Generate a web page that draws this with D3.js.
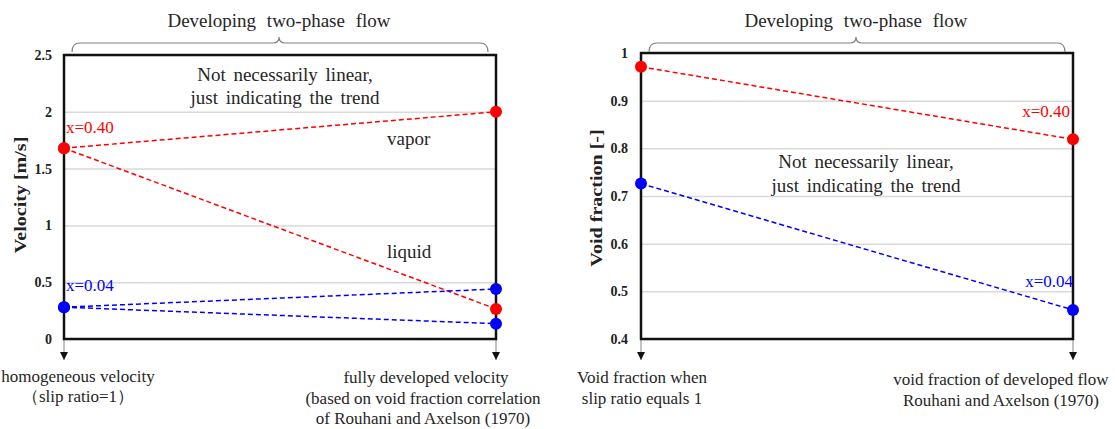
<!DOCTYPE html>
<html lang="en">
<head>
<meta charset="UTF-8">
<title>Developing two-phase flow</title>
<script src="https://cdn.jsdelivr.net/npm/d3@7"></script>
<style>
    body { margin: 0; background: #fff; }
    svg text { font-family: "Times New Roman", "Liberation Serif", serif; }
    .tick-lab { font-size: 14px; font-weight: bold; fill: #222; }
    .ytitle { font-size: 17px; font-weight: bold; fill: #222; }
    .note { font-size: 19px; fill: #262626; word-spacing: 3px; }
    .xlab { font-size: 17px; word-spacing: 0; }
    .title { font-size: 19px; fill: #262626; word-spacing: 6px; }
    .bottom { font-size: 17px; fill: #262626; }
</style>
</head>
<body>
<div id="chart"></div>
<script>
// positions along x: start (slip ratio = 1) and fully developed
var stages = ["start", "developed"];

// left panel: velocity [m/s]
var velTicks = [0, 0.5, 1, 1.5, 2, 2.5];
var velVapor040 = [1.68, 2.0];
var velLiquid040 = [1.68, 0.265];
var velVapor004 = [0.28, 0.44];
var velLiquid004 = [0.28, 0.135];

// right panel: void fraction [-]
var voidTicks = [0.4, 0.5, 0.6, 0.7, 0.8, 0.9, 1];
var void040 = [0.971, 0.819];
var void004 = [0.726, 0.461];

var RED = "#ff0000", BLUE = "#0000ff";

var svg = d3.select("#chart").append("svg")
    .attr("width", 1115)
    .attr("height", 429);

svg.append("defs").append("marker")
    .attr("id", "arrow")
    .attr("viewBox", "0 0 10 10")
    .attr("refX", 5).attr("refY", 10)
    .attr("markerWidth", 8).attr("markerHeight", 8)
    .attr("markerUnits", "userSpaceOnUse")
    .attr("orient", "0")
    .append("path")
    .attr("d", "M0,0 L10,0 L5,10 Z")
    .attr("fill", "#111");

function panel(cfg) {
    var x = d3.scalePoint().domain(stages).range([cfg.left, cfg.right]);
    var y = d3.scaleLinear().domain(cfg.domain).range([cfg.bottom, cfg.top]);
    var g = svg.append("g");

    // gridlines
    g.append("g")
        .attr("transform", "translate(" + cfg.left + ",0)")
        .call(d3.axisLeft(y).tickValues(cfg.ticks).tickSize(-(cfg.right - cfg.left)).tickFormat(""))
        .call(function (a) {
            a.select(".domain").remove();
            a.selectAll("line").attr("stroke", "#d9d9d9").attr("stroke-width", 1.5);
        });

    // tick labels
    g.append("g")
        .attr("transform", "translate(" + (cfg.left - cfg.tickGap) + ",0)")
        .call(d3.axisLeft(y).tickValues(cfg.ticks).tickSize(0).tickFormat(d3.format("")))
        .call(function (a) {
            a.select(".domain").remove();
            a.selectAll("text").attr("class", "tick-lab").attr("x", 0);
        });

    // axis title (stretched along its length like the original)
    g.append("text")
        .attr("class", "ytitle")
        .attr("transform", "translate(" + cfg.titleX + "," + cfg.titleY + ") rotate(-90) scale(1.18,1)")
        .attr("text-anchor", "middle")
        .attr("dy", "0.35em")
        .text(cfg.ytitle);

    // arrows below the plot
    stages.forEach(function (s) {
        g.append("line")
            .attr("x1", x(s)).attr("x2", x(s))
            .attr("y1", cfg.bottom).attr("y2", 360)
            .attr("stroke", "#999").attr("stroke-width", 1.2)
            .attr("marker-end", "url(#arrow)");
    });

    // frame
    g.append("rect")
        .attr("x", cfg.left).attr("y", cfg.top)
        .attr("width", cfg.right - cfg.left).attr("height", cfg.bottom - cfg.top)
        .attr("fill", "none").attr("stroke", "#111").attr("stroke-width", 2.5);

    // brace and title
    var bx0 = cfg.left + 8, bx1 = cfg.right - 8, bc = (cfg.left + cfg.right) / 2 - 1, by = 43;
    g.append("path")
        .attr("d", "M" + bx0 + "," + (by + 9) + " Q" + bx0 + "," + by + " " + (bx0 + 8) + "," + by +
            " L" + (bc - 6) + "," + by + " Q" + bc + "," + by + " " + bc + "," + (by - 6) +
            " Q" + bc + "," + by + " " + (bc + 6) + "," + by +
            " L" + (bx1 - 8) + "," + by + " Q" + bx1 + "," + by + " " + bx1 + "," + (by + 9))
        .attr("fill", "none").attr("stroke", "#808080").attr("stroke-width", 1.2);
    g.append("text")
        .attr("class", "title")
        .attr("x", bc).attr("y", 27)
        .attr("text-anchor", "middle")
        .text("Developing two-phase flow");

    // series
    var line = d3.line().x(function (d, i) { return x(stages[i]); }).y(function (d) { return y(d); });
    cfg.series.forEach(function (s) {
        g.append("path")
            .datum(s.values)
            .attr("d", line)
            .attr("fill", "none")
            .attr("stroke", s.color)
            .attr("stroke-width", 1.5)
            .attr("stroke-dasharray", "5,3");
    });
    cfg.series.forEach(function (s) {
        g.selectAll(null)
            .data(s.values)
            .enter().append("circle")
            .attr("cx", function (d, i) { return x(stages[i]); })
            .attr("cy", function (d) { return y(d); })
            .attr("r", 6)
            .attr("fill", s.color);
    });

    // notes
    cfg.notes.forEach(function (n) {
        g.append("text")
            .attr("class", n.cls || "note")
            .attr("x", n.x).attr("y", n.y)
            .attr("text-anchor", n.anchor || "start")
            .style("fill", n.color || null)
            .text(n.text);
    });
}

panel({
    left: 64, right: 496, top: 55, bottom: 339,
    domain: [0, 2.5], ticks: velTicks, tickGap: 12,
    ytitle: "Velocity [m/s]", titleX: 20, titleY: 195,
    series: [
        {values: velVapor040, color: RED},
        {values: velLiquid040, color: RED},
        {values: velVapor004, color: BLUE},
        {values: velLiquid004, color: BLUE}
    ],
    notes: [
        {text: "Not necessarily linear,", x: 285, y: 81, anchor: "middle"},
        {text: "just indicating the trend", x: 285, y: 104, anchor: "middle"},
        {text: "x=0.40", x: 66, y: 133, color: RED, cls: "note xlab"},
        {text: "vapor", x: 387, y: 145},
        {text: "liquid", x: 387, y: 258},
        {text: "x=0.04", x: 66, y: 291, color: BLUE, cls: "note xlab"},
        {text: "homogeneous velocity", x: 78, y: 382, anchor: "middle", cls: "bottom"},
        {text: "（slip ratio=1）", x: 78, y: 402, anchor: "middle", cls: "bottom"},
        {text: "fully developed velocity", x: 426, y: 383, anchor: "middle", cls: "bottom"},
        {text: "(based on void fraction correlation", x: 423, y: 404, anchor: "middle", cls: "bottom"},
        {text: "of Rouhani and Axelson (1970)", x: 423, y: 424, anchor: "middle", cls: "bottom"}
    ]
});

panel({
    left: 641, right: 1073, top: 53, bottom: 339,
    domain: [0.4, 1], ticks: voidTicks, tickGap: 13,
    ytitle: "Void fraction [-]", titleX: 596, titleY: 198,
    series: [
        {values: void040, color: RED},
        {values: void004, color: BLUE}
    ],
    notes: [
        {text: "x=0.40", x: 1070, y: 117, anchor: "end", color: RED, cls: "note xlab"},
        {text: "Not necessarily linear,", x: 866, y: 168, anchor: "middle"},
        {text: "just indicating the trend", x: 866, y: 192, anchor: "middle"},
        {text: "x=0.04", x: 1073, y: 287, anchor: "end", color: BLUE, cls: "note xlab"},
        {text: "Void fraction when", x: 642, y: 383, anchor: "middle", cls: "bottom"},
        {text: "slip ratio equals 1", x: 642, y: 404, anchor: "middle", cls: "bottom"},
        {text: "void fraction of developed flow", x: 1001, y: 385, anchor: "middle", cls: "bottom"},
        {text: "Rouhani and Axelson (1970)", x: 1001, y: 406, anchor: "middle", cls: "bottom"}
    ]
});
</script>
</body>
</html>
